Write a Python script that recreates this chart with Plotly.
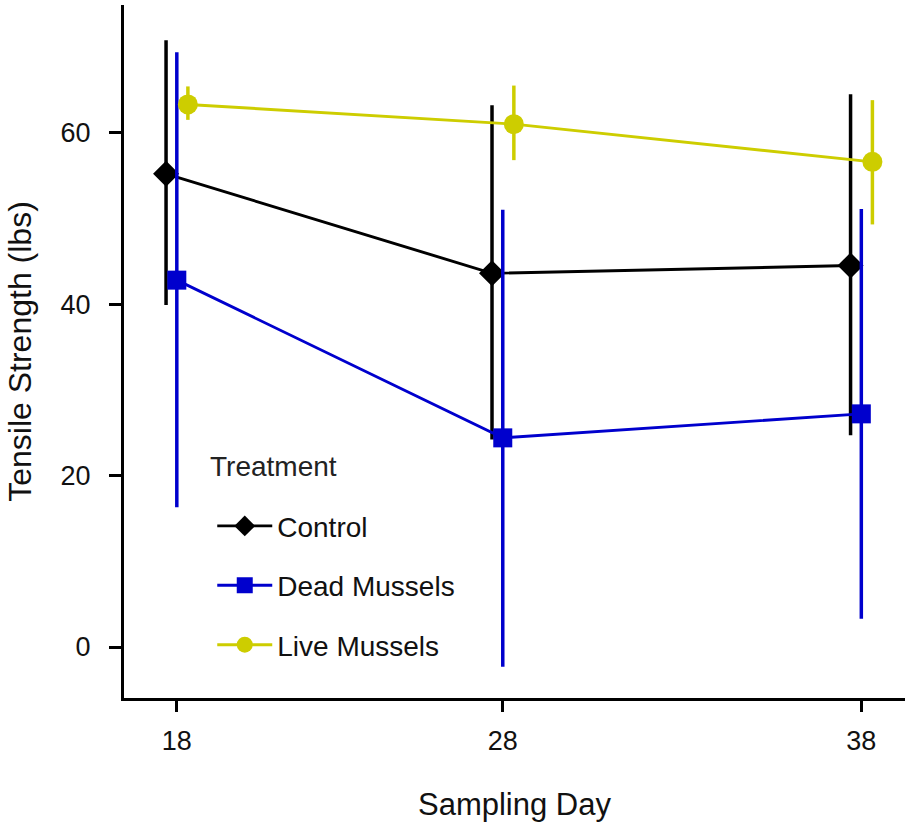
import plotly.graph_objects as go

# ---- data ----
sampling_day_pos = [18, 28, 39]
sampling_day_labels = ["18", "28", "38"]
treatments = ["Control", "Dead Mussels", "Live Mussels"]

control_mean = [55.2, 43.6, 44.5]
control_upper = [70.8, 63.2, 64.5]
control_lower = [39.9, 24.2, 24.7]

dead_mean = [42.8, 24.4, 27.2]
dead_upper = [69.4, 51.0, 51.1]
dead_lower = [16.3, -2.3, 3.3]

live_mean = [63.3, 61.0, 56.6]
live_upper = [65.4, 65.5, 63.8]
live_lower = [61.5, 56.8, 49.3]

y_ticks = [0, 20, 40, 60]
legend_title = "Treatment"

# ---- styles ----
colors = {"Control": "#000000", "Dead Mussels": "#0000CD", "Live Mussels": "#CDCD00"}
symbols = {"Control": "diamond", "Dead Mussels": "square", "Live Mussels": "circle"}
sizes = {"Control": 20, "Dead Mussels": 19, "Live Mussels": 20}
dodge = {"Control": -0.33, "Dead Mussels": 0.0, "Live Mussels": 0.34}
FONT = "Liberation Sans, Arial, sans-serif"

series = {
    "Control": (control_mean, control_upper, control_lower),
    "Dead Mussels": (dead_mean, dead_upper, dead_lower),
    "Live Mussels": (live_mean, live_upper, live_lower),
}

fig = go.Figure()
for i, name in enumerate(treatments):
    m, up, lo = series[name]
    xs = [d + dodge[name] for d in sampling_day_pos]
    fig.add_trace(go.Scatter(
        x=xs, y=m, name=name, mode="lines+markers",
        legendgroup=name,
        line=dict(color=colors[name], width=2.9),
        marker=dict(symbol=symbols[name], size=sizes[name], color=colors[name],
                    line=dict(width=0)),
        error_y=dict(type="data", symmetric=False,
                     array=[u - v for u, v in zip(up, m)],
                     arrayminus=[v - l for v, l in zip(m, lo)],
                     color=colors[name], thickness=3.5, width=0),
    ))

fig.add_annotation(
    text=legend_title, xref="paper", yref="paper",
    x=0.108, y=0.334, xanchor="left", yanchor="middle", showarrow=False,
    font=dict(size=28, family=FONT, color="#222222"),
)

fig.update_layout(
    width=907, height=828,
    margin=dict(l=124, r=2, t=5, b=130),
    paper_bgcolor="white", plot_bgcolor="white",
    font=dict(family=FONT, color="#000000"),
    showlegend=True,
    legend=dict(
        x=0.113, y=0.284, xanchor="left", yanchor="top",
        bgcolor="rgba(0,0,0,0)",
        font=dict(size=28, family=FONT, color="#111111"),
        tracegroupgap=20,
        itemwidth=55,
    ),
    xaxis=dict(
        range=[16.38, 40.34],
        tickmode="array", tickvals=sampling_day_pos, ticktext=sampling_day_labels,
        showgrid=False, zeroline=False,
        showline=True, linecolor="black", linewidth=3,
        ticks="outside", ticklen=11, tickwidth=2.5, tickcolor="black",
        tickfont=dict(size=27, family=FONT, color="#111111"),
        ticklabelstandoff=6,
        title=dict(text="Sampling Day", font=dict(size=31, family=FONT, color="#111111"),
                   standoff=38),
    ),
    yaxis=dict(
        range=[-5.95, 74.9],
        tickmode="array", tickvals=y_ticks,
        showgrid=False, zeroline=False,
        showline=True, linecolor="black", linewidth=3,
        ticks="outside", ticklen=12, tickwidth=2.5, tickcolor="black",
        tickfont=dict(size=27, family=FONT, color="#111111"),
        ticklabelstandoff=13,
        title=dict(text="Tensile Strength (lbs)", font=dict(size=32, family=FONT, color="#111111"),
                   standoff=20),
    ),
)

fig.write_html("out.html")
